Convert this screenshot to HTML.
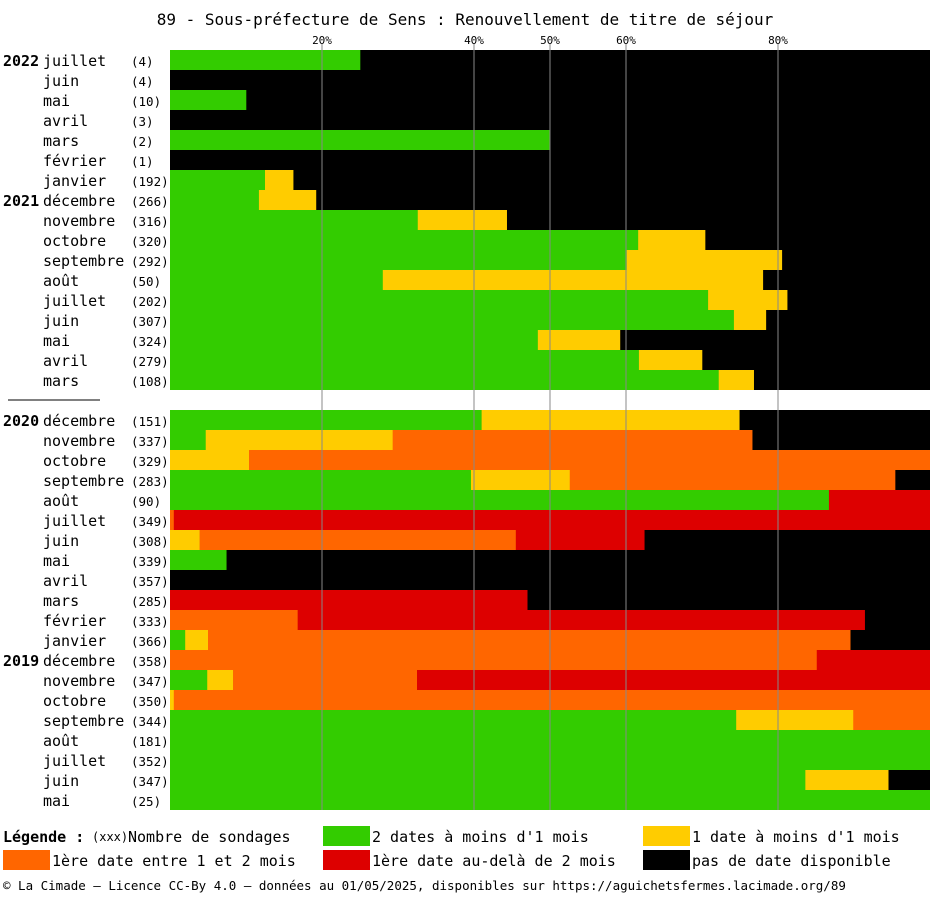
<!DOCTYPE html>
<html><head><meta charset="utf-8"><style>
body{margin:0;background:#fff;width:930px;height:895px;overflow:hidden;font-family:"DejaVu Sans Mono","Liberation Mono",monospace;}
svg text{font-family:"DejaVu Sans Mono","Liberation Mono",monospace;}
</style></head><body>
<svg id="chart" width="930" height="895">
<text x="465" y="25" text-anchor="middle" font-size="16">89 - Sous-préfecture de Sens : Renouvellement de titre de séjour</text>
<g id="bars"></g><g id="grid"></g><g id="labels"></g>
<line x1="8" x2="100" y1="400" y2="400" stroke="#000" stroke-width="1"/>
<g font-size="15">
<text x="3" y="842" font-weight="bold">Légende :</text>
<text x="92" y="841" font-size="12">(xxx)</text>
<text x="128" y="842">Nombre de sondages</text>
<rect x="323" y="826" width="47" height="20" fill="#33cc00"/>
<text x="372" y="842">2 dates à moins d'1 mois</text>
<rect x="643" y="826" width="47" height="20" fill="#ffcc00"/>
<text x="692" y="842">1 date à moins d'1 mois</text>
<rect x="3" y="850" width="47" height="20" fill="#ff6600"/>
<text x="52" y="866">1ère date entre 1 et 2 mois</text>
<rect x="323" y="850" width="47" height="20" fill="#dd0000"/>
<text x="372" y="866">1ère date au-delà de 2 mois</text>
<rect x="643" y="850" width="47" height="20" fill="#000"/>
<text x="692" y="866">pas de date disponible</text>
</g>
<text x="3" y="890" font-size="12.5">© La Cimade — Licence CC-By 4.0 — données au 01/05/2025, disponibles sur https://aguichetsfermes.lacimade.org/89</text>
</svg>
<script>
const months=["juillet","juin","mai","avril","mars","février","janvier","décembre","novembre","octobre","septembre","août","juillet","juin","mai","avril","mars","décembre","novembre","octobre","septembre","août","juillet","juin","mai","avril","mars","février","janvier","décembre","novembre","octobre","septembre","août","juillet","juin","mai"];
const years=["2022","","","","","","","2021","","","","","","","","","","2020","","","","","","","","","","","","2019","","","","","","",""];
const counts=[4,4,10,3,2,1,192,266,316,320,292,50,202,307,324,279,108,151,337,329,283,90,349,308,339,357,285,333,366,358,347,350,344,181,352,347,25];
const green=[25,0,10,0,50,0,12.5,11.7,32.6,61.6,60.1,28,70.8,74.2,48.4,61.7,72.2,41,4.7,0,39.6,86.7,0,0,7.4,0,0,0,2,0,4.9,0,74.5,100,100,83.6,100];
const yellow=[0,0,0,0,0,0,3.7,7.5,11.7,8.8,20.4,50,10.4,4.2,10.8,8.3,4.6,33.9,24.6,10.4,13,0,0,3.9,0,0,0,0,3,0,3.4,0.5,15.4,0,0,10.9,0];
const orange=[0,0,0,0,0,0,0,0,0,0,0,0,0,0,0,0,0,0,47.3,89.6,42.8,0,0.5,41.6,0,0,0,16.8,84.5,85.1,24.2,99.5,10.1,0,0,0,0];
const red=[0,0,0,0,0,0,0,0,0,0,0,0,0,0,0,0,0,0,0,0,0,13.3,99.5,16.9,0,0,47,74.6,0,14.9,67.5,0,0,0,0,0,0];
const ticks=[20,40,50,60,80];
const X0=170,W=760;
const xs=p=>X0+p/100*W;
const ys=i=>50+i*20+(i>=17?20:0);
const ns="http://www.w3.org/2000/svg";
const bars=document.getElementById('bars'),grid=document.getElementById('grid'),labels=document.getElementById('labels');
const cols=["#33cc00","#ffcc00","#ff6600","#dd0000"],cn=["green","yellow","orange","red"];
months.forEach((m,i)=>{
  const y=ys(i);
  const bg=document.createElementNS(ns,'rect');
  bg.setAttribute('x',X0);bg.setAttribute('y',y);bg.setAttribute('width',W);bg.setAttribute('height',20);bg.setAttribute('fill','#000');
  
  
  bars.appendChild(bg);
  let acc=0;
  [green[i],yellow[i],orange[i],red[i]].forEach((v,k)=>{
    if(v>0){const r=document.createElementNS(ns,'rect');
      r.setAttribute('x',xs(acc));r.setAttribute('y',y);r.setAttribute('width',xs(acc+v)-xs(acc)+0.3);r.setAttribute('height',20);r.setAttribute('fill',cols[k]);
      
      
      bars.appendChild(r);}
    acc+=v;});
  const t=document.createElementNS(ns,'text');
  t.setAttribute('x',43);t.setAttribute('y',y+16);t.setAttribute('font-size','15');t.textContent=m;
  
  
  labels.appendChild(t);
  const c=document.createElementNS(ns,'text');
  c.setAttribute('x',131);c.setAttribute('y',y+16);c.setAttribute('font-size','12.5');c.textContent='('+counts[i]+')';
  
  
  labels.appendChild(c);
  if(years[i]){const yt=document.createElementNS(ns,'text');
    yt.setAttribute('x',3);yt.setAttribute('y',y+16);yt.setAttribute('font-size','15');yt.setAttribute('font-weight','bold');yt.textContent=years[i];
    
    
    labels.appendChild(yt);}
});
ticks.forEach(t=>{
  const l=document.createElementNS(ns,'line');
  l.setAttribute('x1',xs(t));l.setAttribute('x2',xs(t));l.setAttribute('y1',44);l.setAttribute('y2',810);l.setAttribute('stroke','#888');l.setAttribute('stroke-width','1');
  
  
  grid.appendChild(l);
  const tx=document.createElementNS(ns,'text');
  tx.setAttribute('x',xs(t));tx.setAttribute('y',44);tx.setAttribute('font-size','11');tx.setAttribute('text-anchor','middle');tx.textContent=t+'%';
  
  
  grid.appendChild(tx);
});
</script>
</body></html>
